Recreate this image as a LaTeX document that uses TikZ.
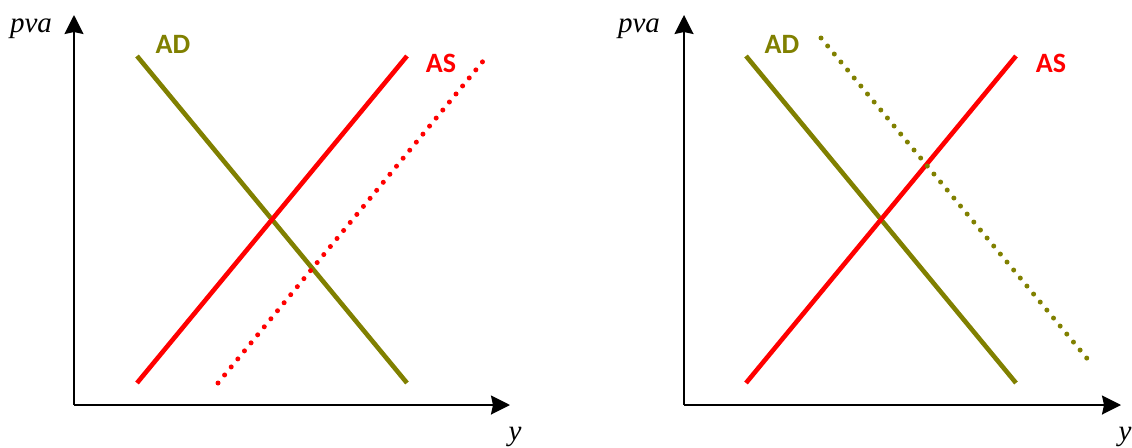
\documentclass[tikz,border=0pt]{standalone}
\usepackage{fontspec}
\setmainfont{Liberation Serif}
\newfontfamily\lblfont{Carlito}
\usetikzlibrary{arrows.meta}
\definecolor{adolive}{HTML}{808000}
\definecolor{asred}{HTML}{FF0000}
\tikzset{
  axisline/.style={black, line width=2pt, -{Stealth[length=19pt, width=19pt, inset=2pt]}},
  curve/.style={line width=4.6pt},
  dotcurve/.style={line width=5pt, line cap=round, dash pattern=on 0pt off 10.4pt},
  curvelabel/.style={font=\lblfont\bfseries\fontsize{28}{28}\selectfont},
  axislabel/.style={font=\itshape\fontsize{29}{29}\selectfont, anchor=base}
}

\begin{document}
\begin{tikzpicture}[x=1pt,y=-1pt]
\useasboundingbox (0,0) rectangle (1132,447);
% left panel: AS shifts right
\coordinate (L-o) at (74,405);
\coordinate (L-ytip) at (74,15);
\coordinate (L-xtip) at (510,405);
\draw[axisline] (L-o) -- (L-ytip);
\draw[axisline] (L-o) -- (L-xtip);
\node[axislabel] (L-pva) at (31,32) {pva};
\node[axislabel] (L-y) at (515,440) {y};
\coordinate (L-ad1) at (137,56);
\coordinate (L-ad2) at (407,383);
\coordinate (L-as1) at (137,383);
\coordinate (L-as2) at (407,56);
\coordinate (L-asd1) at (218,383);
\coordinate (L-asd2) at (484,60);
\draw[curve, adolive] (L-ad1) -- (L-ad2);
\draw[curve, asred] (L-as1) -- (L-as2);
\draw[dotcurve, asred] (L-asd1) -- (L-asd2);
\node[curvelabel, text=adolive] (L-adlbl) at (173,44) {AD};
\node[curvelabel, text=asred] (L-aslbl) at (441,63) {AS};
% right panel: AD shifts right
\coordinate (R-o) at (684,405);
\coordinate (R-ytip) at (684,15);
\coordinate (R-xtip) at (1121,405);
\draw[axisline] (R-o) -- (R-ytip);
\draw[axisline] (R-o) -- (R-xtip);
\node[axislabel] (R-pva) at (639,32) {pva};
\node[axislabel] (R-y) at (1125,440) {y};
\coordinate (R-ad1) at (746,56);
\coordinate (R-ad2) at (1016,383);
\coordinate (R-as1) at (746,383);
\coordinate (R-as2) at (1016,56);
\coordinate (R-add1) at (821,38);
\coordinate (R-add2) at (1090,362);
\draw[curve, adolive] (R-ad1) -- (R-ad2);
\draw[curve, asred] (R-as1) -- (R-as2);
\draw[dotcurve, adolive] (R-add1) -- (R-add2);
\node[curvelabel, text=adolive] (R-adlbl) at (782,44) {AD};
\node[curvelabel, text=asred] (R-aslbl) at (1051,63) {AS};
\end{tikzpicture}
\end{document}
